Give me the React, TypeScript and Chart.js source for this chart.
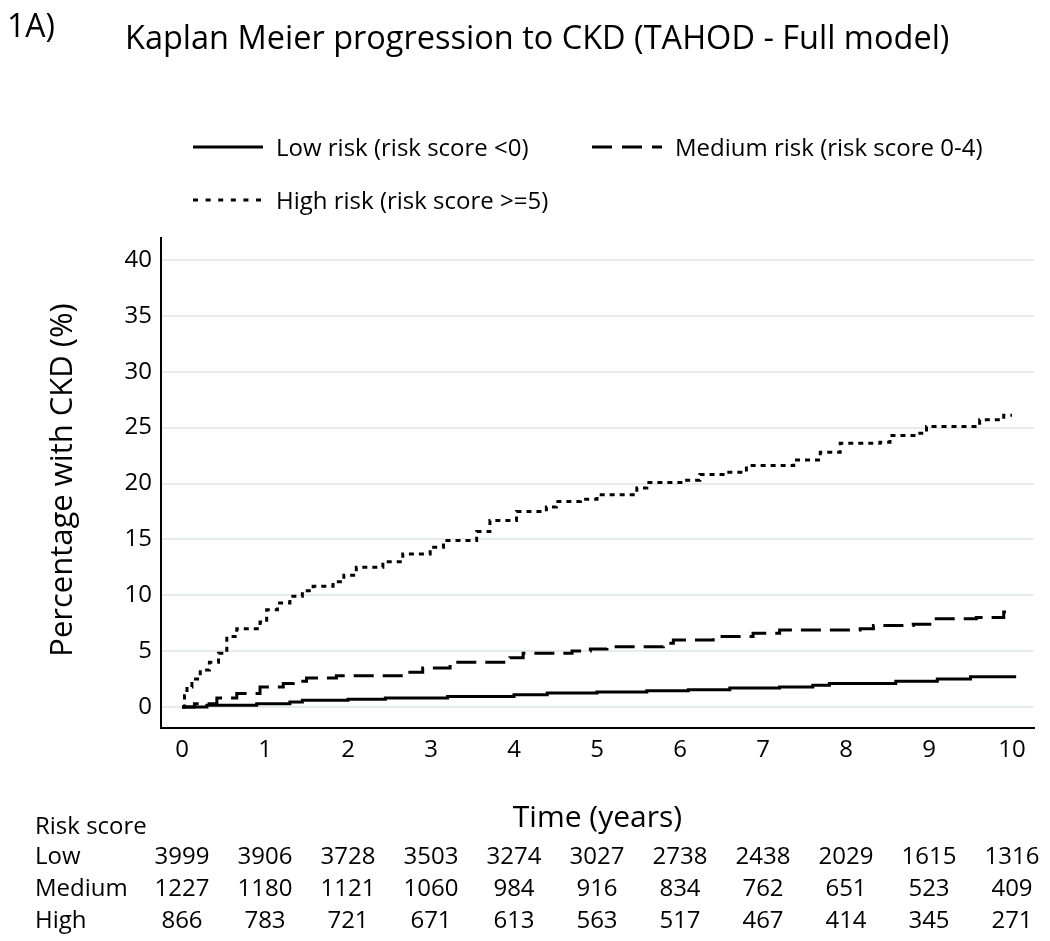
import React, { useEffect, useRef } from "react";
import { Chart, registerables } from "chart.js";

Chart.register(...registerables);

// ---- Data ----
const lowTimes = [0, 0.3, 0.9, 1.3, 1.45, 2.0, 2.45, 3.2, 4.0, 4.4, 5.0, 5.6, 6.1, 6.6, 7.2, 7.6, 7.8, 8.6, 9.1, 9.5, 10.05];
const lowPct = [0, 0.15, 0.3, 0.45, 0.6, 0.7, 0.8, 0.95, 1.1, 1.25, 1.35, 1.45, 1.55, 1.7, 1.8, 1.95, 2.1, 2.3, 2.5, 2.7, 2.7];

const medTimes = [0, 0.15, 0.42, 0.66, 0.94, 1.22, 1.34, 1.5, 1.86, 2.66, 2.9, 3.23, 3.95, 4.11, 4.7, 4.92, 5.12, 5.8, 5.92, 6.4, 6.88, 7.2, 8.17, 8.33, 8.81, 9.05, 9.57, 9.9, 10.0];
const medPct = [0, 0.3, 0.8, 1.2, 1.8, 2.1, 2.3, 2.6, 2.8, 3.1, 3.5, 4.0, 4.4, 4.8, 5.0, 5.2, 5.4, 5.7, 6.0, 6.3, 6.6, 6.9, 7.0, 7.3, 7.4, 7.9, 8.0, 8.5, 8.6];

const highTimes = [0, 0.03, 0.06, 0.12, 0.22, 0.33, 0.44, 0.54, 0.66, 0.94, 1.02, 1.15, 1.3, 1.45, 1.58, 1.82, 1.95, 2.1, 2.42, 2.66, 2.99, 3.15, 3.55, 3.71, 4.03, 4.39, 4.51, 4.8, 5.0, 5.48, 5.6, 6.08, 6.24, 6.56, 6.8, 7.37, 7.69, 7.93, 8.41, 8.53, 8.89, 8.97, 9.53, 9.61, 9.9, 10.0];
const highPct = [0, 1.0, 1.8, 2.5, 3.3, 4.0, 4.8, 6.3, 7.0, 7.6, 8.7, 9.3, 9.9, 10.4, 10.8, 11.2, 11.8, 12.5, 13.0, 13.7, 14.3, 14.9, 15.7, 16.7, 17.5, 17.9, 18.4, 18.6, 19.0, 19.6, 20.1, 20.3, 20.8, 21.0, 21.6, 22.1, 22.8, 23.6, 23.7, 24.3, 24.5, 25.1, 25.1, 25.7, 26.1, 26.1];

const xTicks = [0, 1, 2, 3, 4, 5, 6, 7, 8, 9, 10];
const yTicks = [0, 5, 10, 15, 20, 25, 30, 35, 40];

const seriesLabels = ["Low risk (risk score <0)", "Medium risk (risk score 0-4)", "High risk (risk score >=5)"];
const riskRowNames = ["Low", "Medium", "High"];
const riskLow = [3999, 3906, 3728, 3503, 3274, 3027, 2738, 2438, 2029, 1615, 1316];
const riskMedium = [1227, 1180, 1121, 1060, 984, 916, 834, 762, 651, 523, 409];
const riskHigh = [866, 783, 721, 671, 613, 563, 517, 467, 414, 345, 271];

const panelLabel = "1A)";
const titleText = "Kaplan Meier progression to CKD (TAHOD - Full model)";
const yTitle = "Percentage with CKD (%)";
const xTitle = "Time (years)";
const riskHeader = "Risk score";

const FONT = "'Open Sans', sans-serif";
const DASH_MED = [20, 9];
const DASH_HIGH = [5, 5];

const toPoints = (t: number[], v: number[]) => t.map((x, i) => ({ x, y: v[i] }));

const decorPlugin = {
  id: "decor",
  afterDraw(chart: any) {
    const ctx = chart.ctx;
    const xs = chart.scales.x;
    const area = chart.chartArea;
    ctx.save();
    ctx.fillStyle = "#000";
    ctx.strokeStyle = "#000";
    ctx.textBaseline = "alphabetic";

    // Panel label and title
    ctx.textAlign = "left";
    ctx.font = `32px ${FONT}`;
    ctx.fillText(panelLabel, 7, 37);
    ctx.font = `32.5px ${FONT}`;
    ctx.fillText(titleText, 125, 49);

    // Legend
    ctx.font = `24px ${FONT}`;
    const legend = [
      { x: 193, y: 147, dash: [] as number[], label: seriesLabels[0] },
      { x: 592, y: 147, dash: [20, 10], label: seriesLabels[1] },
      { x: 193, y: 200, dash: [5, 7.6], label: seriesLabels[2] },
    ];
    legend.forEach((l) => {
      ctx.beginPath();
      ctx.lineWidth = 3;
      ctx.setLineDash(l.dash);
      ctx.moveTo(l.x, l.y);
      ctx.lineTo(l.x + 70, l.y);
      ctx.stroke();
      ctx.setLineDash([]);
      ctx.fillText(l.label, l.x + 83, l.y + 9);
    });

    // Y axis title
    ctx.save();
    ctx.font = `31px ${FONT}`;
    ctx.textAlign = "center";
    ctx.translate(72, (area.top + area.bottom) / 2 - 3);
    ctx.rotate(-Math.PI / 2);
    ctx.fillText(yTitle, 0, 0);
    ctx.restore();

    // X axis title
    ctx.font = `30px ${FONT}`;
    ctx.textAlign = "center";
    ctx.fillText(xTitle, (area.left + area.right) / 2, 827);

    // Risk table
    ctx.font = `24px ${FONT}`;
    ctx.textAlign = "left";
    ctx.fillText(riskHeader, 35, 834);
    const rows = [riskLow, riskMedium, riskHigh];
    const baselines = [864, 896, 928];
    rows.forEach((row, r) => {
      ctx.textAlign = "left";
      ctx.fillText(riskRowNames[r], 35, baselines[r]);
      ctx.textAlign = "center";
      row.forEach((n, i) => {
        ctx.fillText(String(n), xs.getPixelForValue(xTicks[i]), baselines[r]);
      });
    });
    ctx.restore();
  },
};

export default function App() {
  const ref = useRef<HTMLCanvasElement | null>(null);
  useEffect(() => {
    if (!ref.current) return;
    const chart = new Chart(ref.current, {
      type: "line",
      data: {
        datasets: [
          {
            label: seriesLabels[0],
            data: toPoints(lowTimes, lowPct),
            borderColor: "#000",
            borderWidth: 3,
            stepped: true,
            pointRadius: 0,
            fill: false,
          },
          {
            label: seriesLabels[1],
            data: toPoints(medTimes, medPct),
            borderColor: "#000",
            borderWidth: 3,
            borderDash: DASH_MED,
            stepped: true,
            pointRadius: 0,
            fill: false,
          },
          {
            label: seriesLabels[2],
            data: toPoints(highTimes, highPct),
            borderColor: "#000",
            borderWidth: 3,
            borderDash: DASH_HIGH,
            stepped: true,
            pointRadius: 0,
            fill: false,
          },
        ],
      },
      options: {
        responsive: false,
        animation: false,
        events: [],
        layout: { padding: { top: 238, right: 16, left: 0, bottom: 0 } },
        plugins: {
          legend: { display: false },
          tooltip: { enabled: false },
          title: { display: false },
        },
        scales: {
          x: {
            type: "linear",
            min: -0.253,
            max: 10.265,
            afterFit: (s: any) => {
              s.height = 941 - 728;
            },
            afterBuildTicks: (s: any) => {
              s.ticks = xTicks.map((v) => ({ value: v }));
            },
            grid: { display: false, drawTicks: false },
            border: { display: true, color: "#000", width: 2 },
            ticks: {
              autoSkip: false,
              maxRotation: 0,
              padding: 8,
              color: "#000",
              font: { family: FONT, size: 24 },
              callback: (v: any) => String(v),
            },
          },
          y: {
            type: "linear",
            min: -1.88,
            max: 41.97,
            afterFit: (s: any) => {
              s.width = 161;
            },
            afterBuildTicks: (s: any) => {
              s.ticks = yTicks.map((v) => ({ value: v }));
            },
            grid: { color: "#e4ecef", lineWidth: 2, drawTicks: false },
            border: { display: true, color: "#000", width: 2 },
            ticks: {
              padding: 9,
              color: "#000",
              font: { family: FONT, size: 24 },
              callback: (v: any) => String(v),
            },
          },
        },
      },
      plugins: [decorPlugin],
    });
    return () => chart.destroy();
  }, []);

  return (
    <div style={{ position: "absolute", left: 0, top: 0, width: 1050, height: 941, background: "#fff" }}>
      <canvas ref={ref} width={1050} height={941} />
    </div>
  );
}
